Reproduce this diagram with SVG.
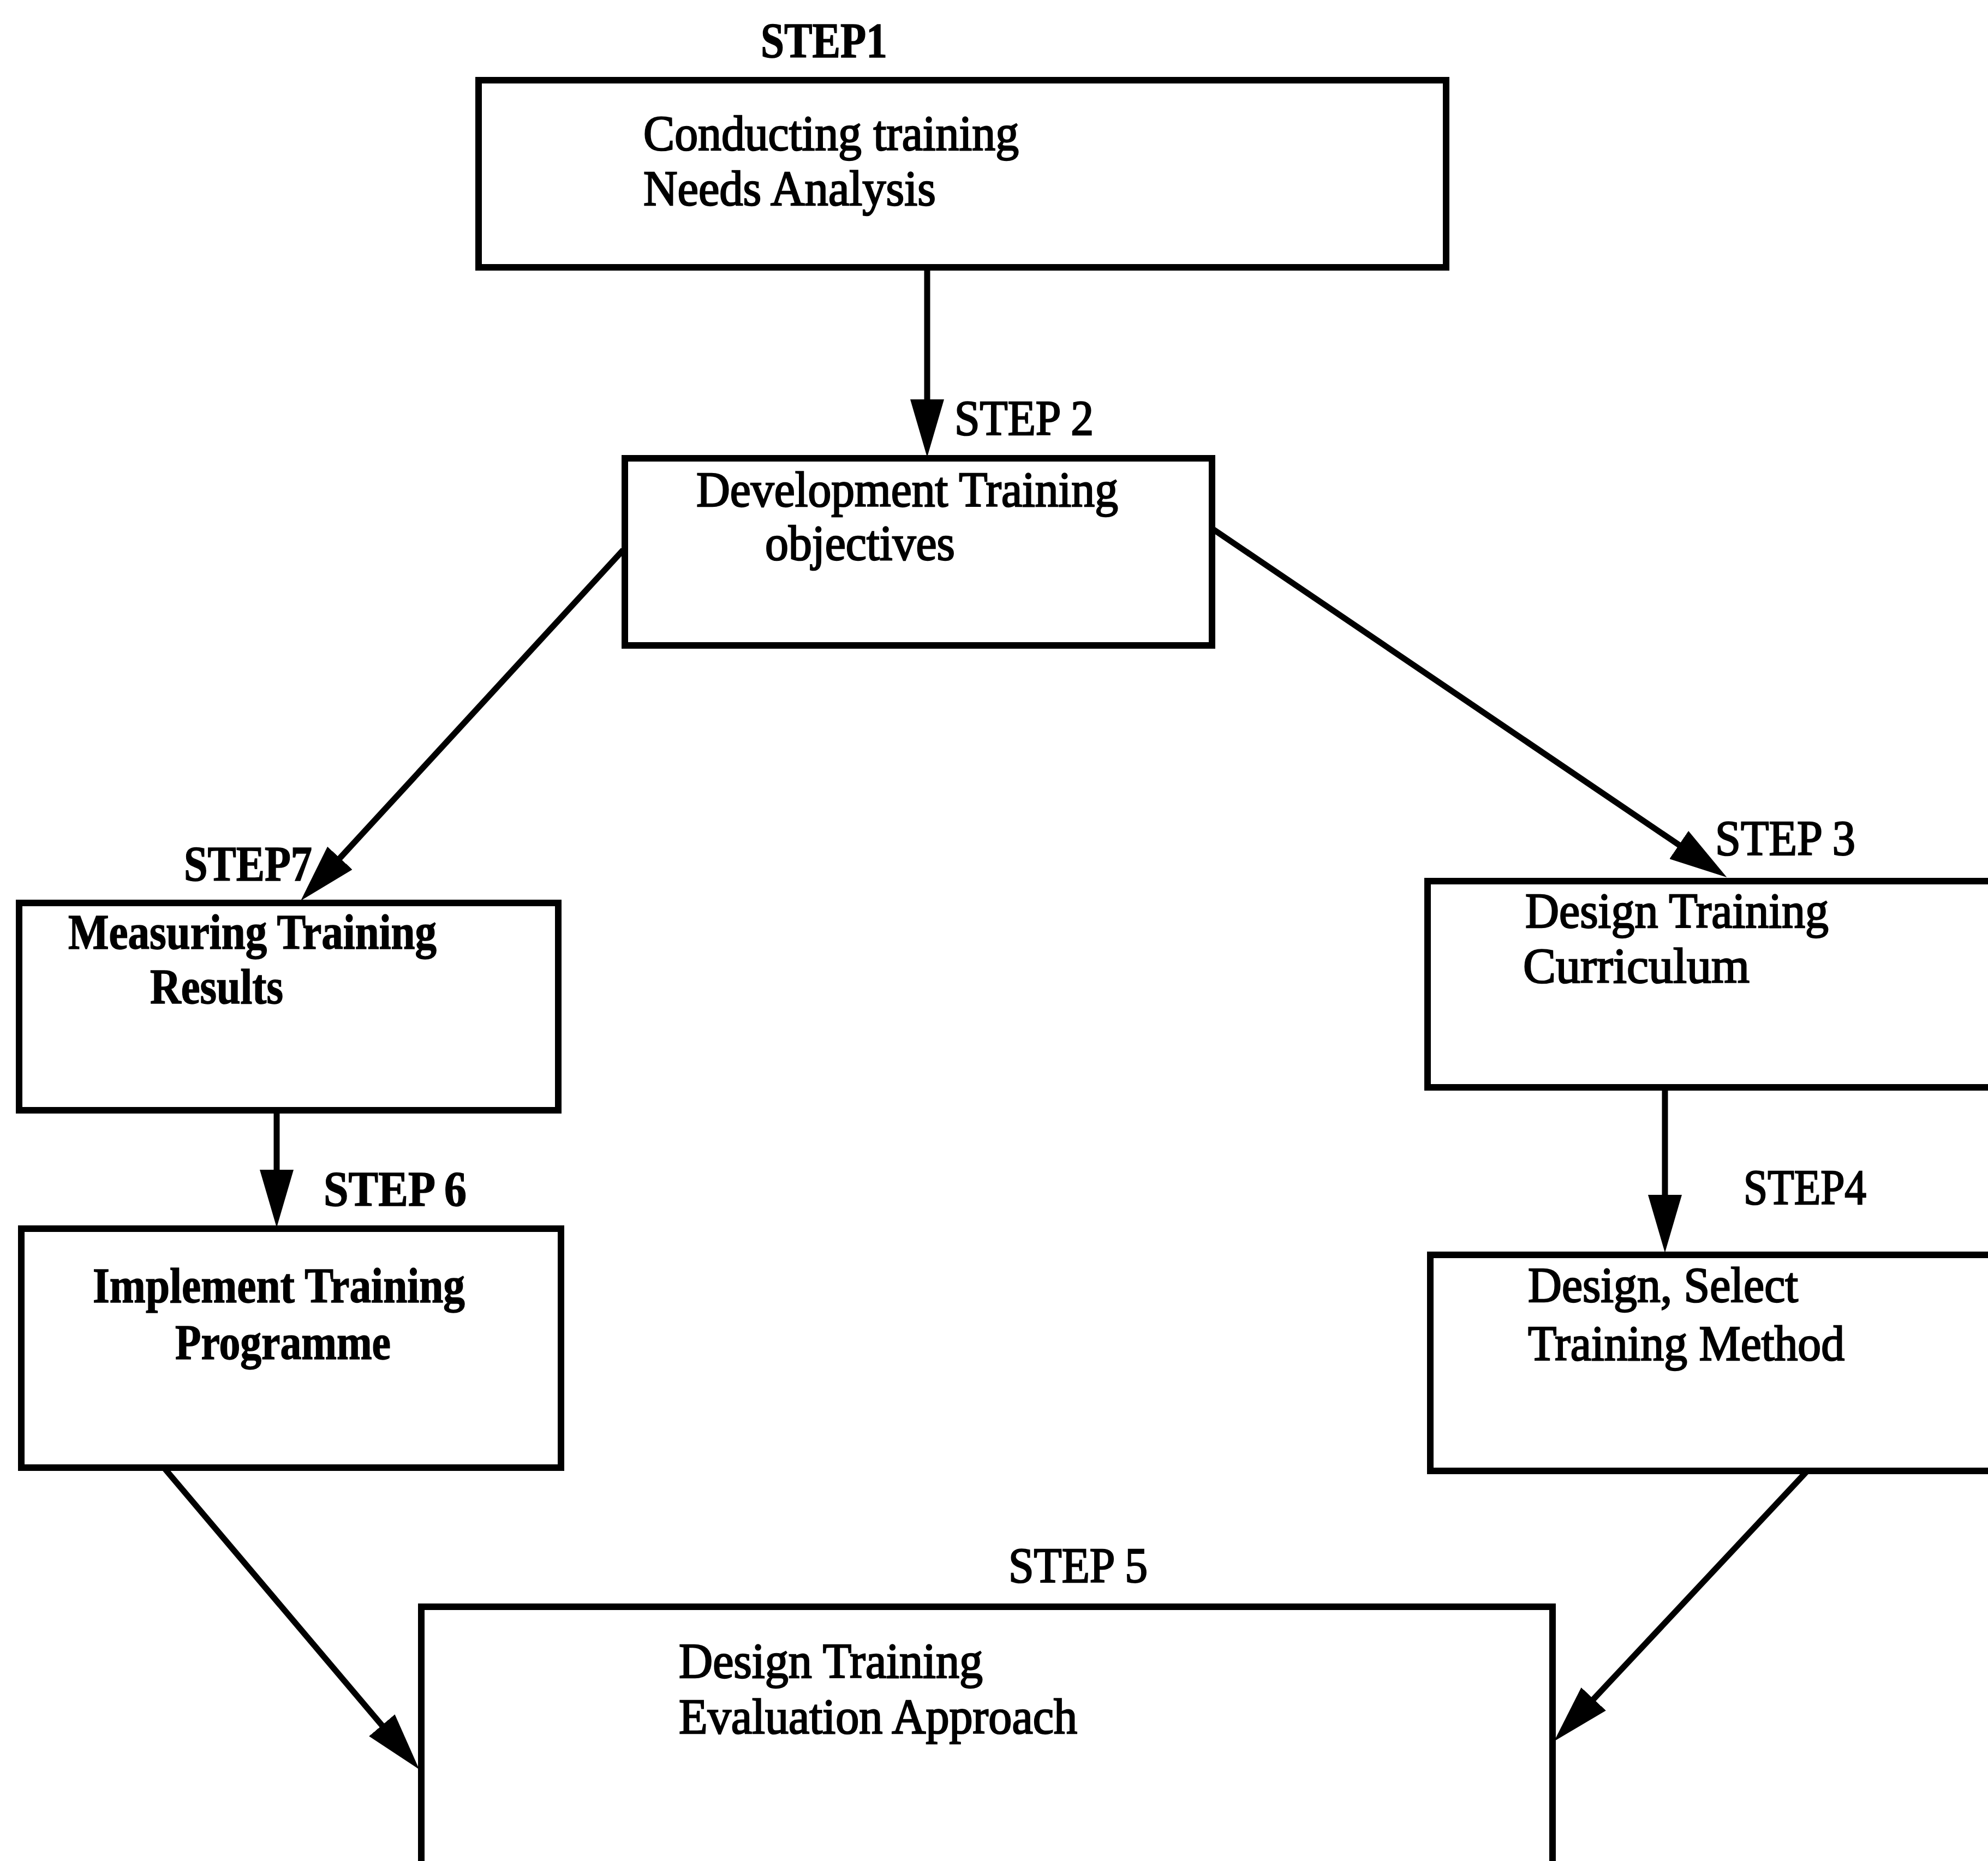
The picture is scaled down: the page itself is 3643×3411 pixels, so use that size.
<svg xmlns="http://www.w3.org/2000/svg" width="3643" height="3411" viewBox="0 0 3643 3411">
  <style>
    .box { fill: #ffffff; stroke: #000000; stroke-width: 12; }
    .link { fill: none; stroke: #000000; stroke-width: 11; }
    text { font-family: "Liberation Serif", "Times New Roman", serif; font-size: 92px; fill: #000000; stroke: #000000; stroke-width: 2.5px; }
    .b { font-weight: bold; stroke-width: 1.5px; }
  </style>
  <defs>
    <marker id="arrow" markerUnits="userSpaceOnUse" markerWidth="106" markerHeight="62" viewBox="0 0 106 62" refX="56" refY="31" orient="auto">
      <path d="M0,0 L106,31 L0,62 Z" fill="#000000"/>
    </marker>
  </defs>
  <rect width="3643" height="3411" fill="#ffffff"/>

  <!-- connectors -->
  <g id="connectors">
    <line class="link" x1="1699" y1="490" x2="1699" y2="788" marker-end="url(#arrow)"/>
    <line class="link" x1="1142" y1="1008" x2="585" y2="1614" marker-end="url(#arrow)"/>
    <line class="link" x1="2223" y1="970" x2="3123" y2="1580" marker-end="url(#arrow)"/>
    <line class="link" x1="3051" y1="1993" x2="3051" y2="2246" marker-end="url(#arrow)"/>
    <line class="link" x1="507" y1="2036" x2="507" y2="2200" marker-end="url(#arrow)"/>
    <line class="link" x1="302" y1="2692" x2="736" y2="3205" marker-end="url(#arrow)"/>
    <line class="link" x1="3310" y1="2698" x2="2882" y2="3155" marker-end="url(#arrow)"/>
  </g>

  <!-- step 1 -->
  <g id="step1">
    <text class="b" x="1394" y="105" textLength="232" lengthAdjust="spacingAndGlyphs">STEP1</text>
    <rect class="box" x="877" y="147" width="1773" height="343"/>
    <text x="1179" y="275" textLength="688" lengthAdjust="spacingAndGlyphs">Conducting training</text>
    <text x="1179" y="376" textLength="536" lengthAdjust="spacingAndGlyphs">Needs Analysis</text>
  </g>

  <!-- step 2 -->
  <g id="step2">
    <text x="1749" y="797" textLength="255" lengthAdjust="spacingAndGlyphs">STEP 2</text>
    <rect class="box" x="1145" y="840" width="1076" height="343"/>
    <text x="1276" y="928" textLength="773" lengthAdjust="spacingAndGlyphs">Development Training</text>
    <text x="1402" y="1026" textLength="348" lengthAdjust="spacingAndGlyphs">objectives</text>
  </g>

  <!-- step 3 -->
  <g id="step3">
    <text x="3143" y="1567" textLength="257" lengthAdjust="spacingAndGlyphs">STEP 3</text>
    <rect class="box" x="2616" y="1615" width="1050" height="378"/>
    <text x="2795" y="1700" textLength="556" lengthAdjust="spacingAndGlyphs">Design Training</text>
    <text x="2791" y="1801" textLength="415" lengthAdjust="spacingAndGlyphs">Curriculum</text>
  </g>

  <!-- step 4 -->
  <g id="step4">
    <text x="3195" y="2207" textLength="225" lengthAdjust="spacingAndGlyphs">STEP4</text>
    <rect class="box" x="2621" y="2300" width="1045" height="396"/>
    <text x="2800" y="2386" textLength="495" lengthAdjust="spacingAndGlyphs">Design, Select</text>
    <text x="2800" y="2493" textLength="580" lengthAdjust="spacingAndGlyphs">Training Method</text>
  </g>

  <!-- step 5 -->
  <g id="step5">
    <text x="1848" y="2900" textLength="255" lengthAdjust="spacingAndGlyphs">STEP 5</text>
    <rect class="box" x="772" y="2945" width="2073" height="520"/>
    <text x="1244" y="3075" textLength="557" lengthAdjust="spacingAndGlyphs">Design Training</text>
    <text x="1244" y="3177" textLength="730" lengthAdjust="spacingAndGlyphs">Evaluation Approach</text>
  </g>

  <!-- step 6 -->
  <g id="step6">
    <text class="b" x="593" y="2210" textLength="262" lengthAdjust="spacingAndGlyphs">STEP 6</text>
    <rect class="box" x="39" y="2252" width="989" height="438"/>
    <text class="b" x="170" y="2387" textLength="682" lengthAdjust="spacingAndGlyphs">Implement Training</text>
    <text class="b" x="321" y="2491" textLength="395" lengthAdjust="spacingAndGlyphs">Programme</text>
  </g>

  <!-- step 7 -->
  <g id="step7">
    <text class="b" x="337" y="1614" textLength="235" lengthAdjust="spacingAndGlyphs">STEP7</text>
    <rect class="box" x="35" y="1655" width="988" height="380"/>
    <text class="b" x="125" y="1739" textLength="675" lengthAdjust="spacingAndGlyphs">Measuring Training</text>
    <text class="b" x="275" y="1839" textLength="244" lengthAdjust="spacingAndGlyphs">Results</text>
  </g>
</svg>
